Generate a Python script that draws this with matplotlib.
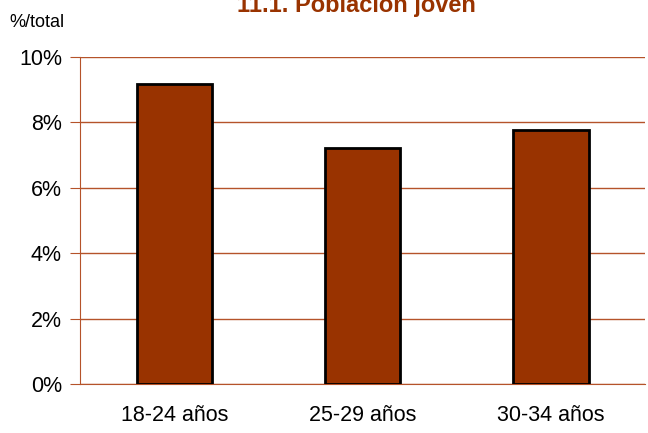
import matplotlib
matplotlib.use("Agg")
import matplotlib.pyplot as plt
from matplotlib.ticker import FuncFormatter

categories = ["18-24 años", "25-29 años", "30-34 años"]
values = [9.18, 7.22, 7.77]
yticks = [0, 2, 4, 6, 8, 10]

bar_color = "#993300"
grid_color = "#B5532A"

plt.rcParams["font.family"] = ["Liberation Sans", "DejaVu Sans"]

fig = plt.figure(figsize=(6.48, 4.33), dpi=100)
ax = fig.add_axes([0.1235, 0.1132, 0.8719, 0.7552])

x = range(len(categories))
ax.bar(x, values, width=0.4, color=bar_color, edgecolor="black", linewidth=2, zorder=3)

ax.set_xlim(-0.5, 2.5)
ax.set_ylim(0, 10)
ax.set_yticks(yticks)
ax.yaxis.set_major_formatter(FuncFormatter(lambda v, p: "%d%%" % v))
ax.set_xticks(list(x))
ax.set_xticklabels(categories)

ax.grid(axis="y", color=grid_color, linewidth=1, zorder=0)
for s in ["top", "right"]:
    ax.spines[s].set_visible(False)
ax.spines["left"].set_color(grid_color)
ax.spines["bottom"].set_color(grid_color)
ax.tick_params(axis="y", length=7, color=grid_color, labelsize=15.5, pad=6)
ax.tick_params(axis="x", length=0, labelsize=15.5, pad=15)

fig.text(0.55, 1 - 12 / 433, "11.1. Población joven", color=bar_color, fontsize=17,
         fontweight="bold", ha="center", va="baseline")
fig.text(0.015, 0.948, "%/total", fontsize=13, ha="left", va="center")

fig.savefig("out.png", dpi=100)
